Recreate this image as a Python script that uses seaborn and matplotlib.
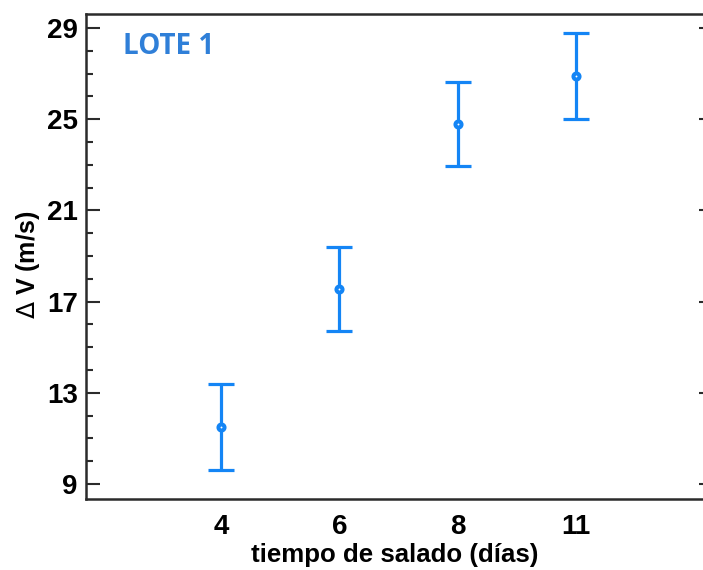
import matplotlib
matplotlib.use("Agg")
import matplotlib.pyplot as plt
from matplotlib.ticker import MultipleLocator
import seaborn as sns
import pandas as pd

# Data
dias = ["4", "6", "8", "11"]
delta_v = [11.5, 17.55, 24.8, 26.9]
err = [1.9, 1.85, 1.85, 1.9]
y_ticks = [9, 13, 17, 21, 25, 29]

sns.set_style("white")
plt.rcParams['font.family'] = ['Liberation Sans', 'DejaVu Sans']
plt.rcParams['text.color'] = 'black'
plt.rcParams['axes.labelcolor'] = 'black'

blue = "#1485F5"
dark = "#2b2b2b"

fig = plt.figure(figsize=(7.03, 5.70), dpi=100)
ax = fig.add_axes([86/703, 1-499/570, 1-86/703, (499-14)/570])

df = pd.DataFrame({"dias": dias, "dv": delta_v, "err": err})

ax.errorbar(df["dias"], df["dv"], yerr=df["err"], fmt="none", ecolor=blue,
            elinewidth=2.3, capsize=9.5, capthick=2.3, zorder=2)
sns.scatterplot(data=df, x="dias", y="dv", ax=ax, marker="o", s=19,
                facecolor="white", edgecolor=blue, linewidth=2.9, zorder=3)

ax.set_xlim(-1.141, 4.073)
ax.set_ylim(8.342, 29.614)
ax.set_yticks(y_ticks)
ax.yaxis.set_minor_locator(MultipleLocator(1))

for side in ["left", "bottom", "top"]:
    ax.spines[side].set_color(dark)
    ax.spines[side].set_linewidth(1.8)
ax.spines["right"].set_visible(False)

ax.tick_params(axis="y", which="major", direction="in", length=10, width=1.5,
               color=dark, left=True, right=True, labelsize=20, pad=6,
               labelcolor="black")
ax.tick_params(axis="y", which="minor", direction="in", length=5, width=1.5,
               color=dark, left=True, right=False)
ax.tick_params(axis="x", length=0, labelsize=20, pad=11, labelcolor="black")
for tick in ax.yaxis.get_major_ticks():
    tick.tick2line.set_markersize(3)
for lab in ax.get_xticklabels() + ax.get_yticklabels():
    lab.set_fontweight("bold")

ax.set_xlabel("tiempo de salado (días)", fontsize=18.6, fontweight="bold",
              labelpad=2, color="black")
ax.set_ylabel(r"$\Delta$ V (m/s)", fontsize=18, fontweight="bold",
              color="black")
ax.yaxis.set_label_coords(-0.0713, 0.4825)

ax.text(0.06, 0.934, "LOTE 1", transform=ax.transAxes, fontsize=20,
        fontweight="bold", color="#2F7FD8", family=["Open Sans", "DejaVu Sans"],
        va="center", ha="left")

fig.savefig("out.png", dpi=100)
